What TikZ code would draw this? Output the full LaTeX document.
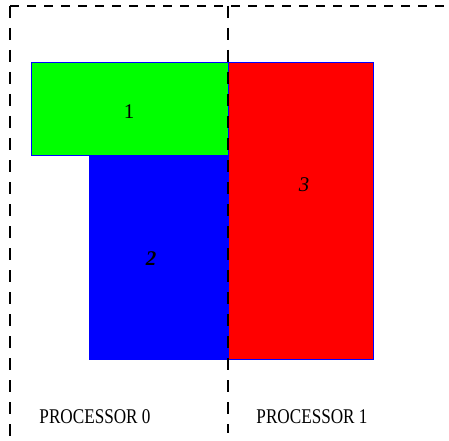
\documentclass[tikz,border=0pt]{standalone}
\usepackage{fontspec}
\setmainfont{Liberation Serif}
\usetikzlibrary{positioning}

\begin{document}
\begin{tikzpicture}[x=1bp, y=-1bp]

\tikzset{
  partbox/.style={draw=blue, line width=0.5bp},
  hdivide/.style={black, line width=1.4bp, dash pattern=on 9bp off 8bp},
  vdivide/.style={black, line width=1.4bp, dash pattern=on 12bp off 10bp},
  partlabel/.style={font=\fontsize{21}{24}\selectfont, inner sep=0pt},
  proclabel/.style={font=\fontsize{21}{24}\selectfont, inner sep=0pt,
    xscale=0.82, transform shape}
}

\useasboundingbox (0,0) rectangle (449,441);

% partitions
\fill[green, partbox] (31,62) rectangle (228,155);
\fill[blue, partbox] (89,155) rectangle (228,359);
\fill[red, partbox] (228,62) rectangle (373,359);

\node[partlabel] (one) at (129,112) {1};
\node[partlabel] (two) at (151,259) {\textbf{\textit{2}}};
\node[partlabel] (three) at (304,185) {\textit{3}};

% processor boundaries
\coordinate (topleft) at (10,6);
\coordinate (topright) at (449,6);
\coordinate (topmid) at (228,6);
\coordinate (botleft) at (10,441);
\coordinate (botmid) at (228,433);
\draw[hdivide] (topleft) -- (topright);
\draw[vdivide] (topleft) -- (botleft);
\draw[vdivide] (topmid) -- (botmid);

\node[proclabel] (proc0) at (95,417) {PROCESSOR 0};
\node[proclabel] (proc1) at (312,417) {PROCESSOR 1};

\end{tikzpicture}
\end{document}
